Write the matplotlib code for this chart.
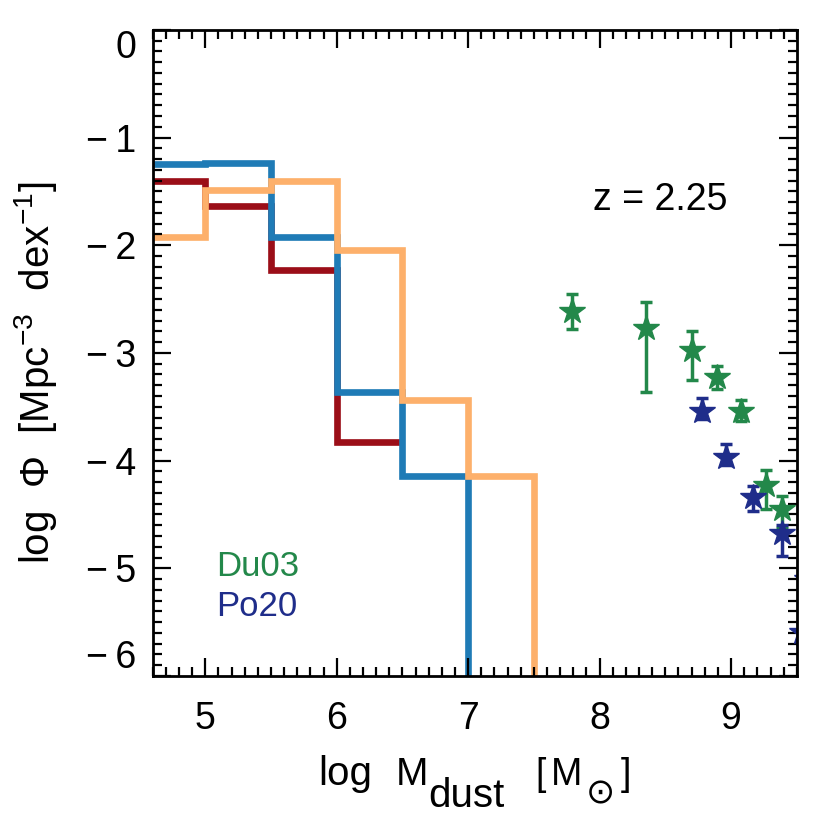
import matplotlib
matplotlib.use('Agg')
import matplotlib.pyplot as plt
from matplotlib.ticker import MultipleLocator, FuncFormatter

plt.rcParams['font.family'] = ['Liberation Sans', 'DejaVu Sans']
plt.rcParams['mathtext.fontset'] = 'custom'
plt.rcParams['mathtext.rm'] = 'Liberation Sans'
plt.rcParams['mathtext.it'] = 'Liberation Sans'

# model histograms (log phi per 0.5 dex bin)
bin_edges = [4.5, 5.0, 5.5, 6.0, 6.5, 7.0, 7.5]
red_phi = [-1.40, -1.64, -2.23, -3.83]
blue_phi = [-1.25, -1.24, -1.92, -3.36, -4.14]
orange_phi = [-1.92, -1.49, -1.40, -2.04, -3.44, -4.14]

# observations
du03_x = [7.79, 8.35, 8.70, 8.89, 9.075, 9.265, 9.385]
du03_y = [-2.61, -2.77, -2.97, -3.225, -3.535, -4.23, -4.445]
du03_top = [-2.455, -2.525, -2.80, -3.125, -3.44, -4.09, -4.325]
du03_bot = [-2.78, -3.365, -3.25, -3.335, -3.635, -4.445, -4.63]

po20_x = [8.78, 8.965, 9.17, 9.39, 9.54, 9.575]
po20_y = [-3.535, -3.965, -4.335, -4.675, -5.59, -5.10]
po20_top = [-3.42, -3.85, -4.235, -4.60, -5.50, -5.00]
po20_bot = [-3.61, -4.045, -4.465, -4.89, -5.70, -5.20]

W = 830.0
fig = plt.figure(figsize=(8.3, 8.3), dpi=100)
ax = fig.add_axes([0.184, 0.1855, 0.776, 0.7785])

lw = 4.8
ax.stairs(red_phi, bin_edges[:len(red_phi) + 1], baseline=None,
          color='#9b0e18', lw=lw, joinstyle='miter', capstyle='butt')
ax.stairs(blue_phi, bin_edges[:len(blue_phi) + 1], baseline=-10,
          color='#1f7bb6', lw=lw, joinstyle='miter', capstyle='butt')
ax.stairs(orange_phi, bin_edges[:len(orange_phi) + 1], baseline=-10,
          color='#fdb06b', lw=lw, joinstyle='miter', capstyle='butt')

def plot_obs(x, y, top, bot, col):
    lo = [yy - b for yy, b in zip(y, bot)]
    hi = [t - yy for yy, t in zip(y, top)]
    ax.errorbar(x, y, yerr=[lo, hi], fmt='*', ms=19, color=col, mec=col,
                ecolor=col, elinewidth=2.5, capsize=4.5, capthick=2.5)

plot_obs(du03_x, du03_y, du03_top, du03_bot, '#23884a')
plot_obs(po20_x, po20_y, po20_top, po20_bot, '#1f2d8a')

ax.text(8.46, -1.58, 'z = 2.25', fontsize=27, ha='center', va='center')
ax.text(5.08, -4.98, 'Du03', fontsize=25, color='#23884a', ha='left', va='center')
ax.text(5.08, -5.35, 'Po20', fontsize=25, color='#1f2d8a', ha='left', va='center')

ax.set_xlim(4.6, 9.5)
ax.set_ylim(-6.0, 0.0)
ax.xaxis.set_major_locator(MultipleLocator(1))
ax.xaxis.set_minor_locator(MultipleLocator(0.1))
ax.set_yticks([-6, -5, -4, -3, -2, -1, 0])
ax.yaxis.set_minor_locator(MultipleLocator(0.1))
ax.yaxis.set_major_formatter(FuncFormatter(
    lambda v, p: '0' if v == 0 else '\u2212\u2009%d' % abs(v)))
ax.tick_params(which='both', direction='in', top=True, right=True, width=1.6,
               labelsize=27)
ax.tick_params(which='major', length=13)
ax.tick_params(which='minor', length=6.5)
ax.tick_params(axis='x', which='major', pad=18)
ax.tick_params(axis='y', which='major', pad=12)
for s in ax.spines.values():
    s.set_linewidth(2)

# IDL-style: end labels kept inside the frame
yt = ax.yaxis.get_major_ticks()
yt[0].label1.set_va('bottom')
yt[-1].label1.set_va('top')

# x title built in pieces so the subscripts keep near full size
fig.text(318 / W, 1 - 785 / W, 'log', fontsize=29, ha='left', va='baseline')
fig.text(396 / W, 1 - 785 / W, 'M', fontsize=28, ha='left', va='baseline')
fig.text(428 / W, 1 - 807 / W, 'dust', fontsize=29, ha='left', va='baseline')
fig.text(535 / W, 1 - 785 / W, '[', fontsize=27, ha='left', va='baseline')
fig.text(551 / W, 1 - 785 / W, 'M', fontsize=27, ha='left', va='baseline')
fig.text(600 / W, 1 - 793 / W, '\u2299', fontsize=25, ha='center', va='center',
         family='DejaVu Sans')
fig.text(621 / W, 1 - 785 / W, ']', fontsize=27, ha='left', va='baseline')

ax.set_ylabel(r'log  $\Phi$  [Mpc$^{-3}$  dex$^{-1}$]', fontsize=29)
ax.yaxis.set_label_coords(-0.145, 0.47)

fig.savefig('out.png', dpi=100)
